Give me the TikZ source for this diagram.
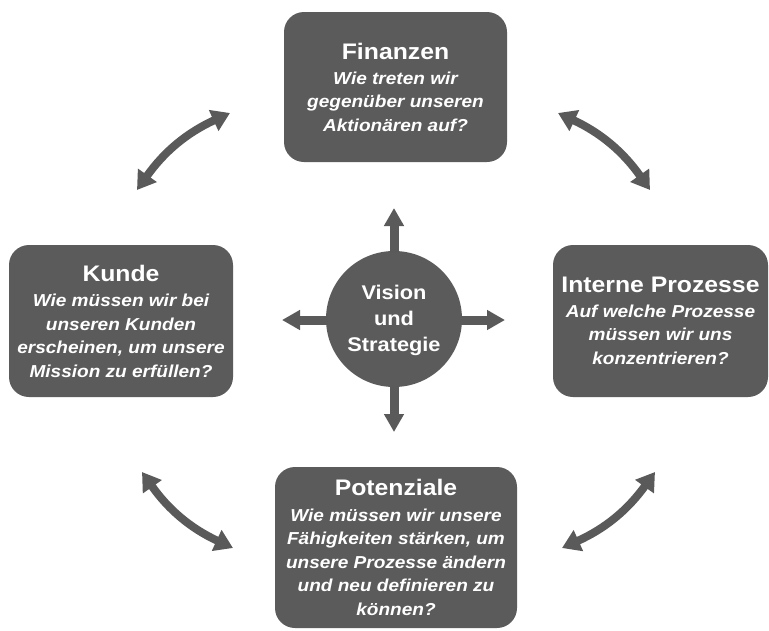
\documentclass[tikz,border=0pt]{standalone}
\usepackage{fontspec}
\setmainfont{Liberation Sans}[FakeStretch=1.1]
\usetikzlibrary{arrows.meta}
\definecolor{boxgray}{HTML}{5B5B5B}
\definecolor{arrowgray}{HTML}{5A5A5A}
\newcommand{\headtxt}[1]{{\fontsize{22.5}{23.5}\selectfont\upshape #1}}
\begin{document}
\begin{tikzpicture}[x=1pt,y=-1pt,
  card/.style={fill=boxgray, rounded corners=20pt, text=white, align=center,
    inner sep=0pt, font=\fontsize{17.3}{23.5}\selectfont\bfseries\itshape},
  hub/.style={circle, fill=boxgray, inner sep=0pt},
  hubtext/.style={text=white, align=center, inner sep=0pt,
    font=\fontsize{19.8}{26}\selectfont\bfseries},
  spoke/.style={draw=arrowgray, line width=9pt, -{Triangle[length=18pt,width=19pt]}},
  cycle/.style={draw=arrowgray, line width=8pt,
    {Triangle[length=18pt,width=22pt]}-{Triangle[length=18pt,width=22pt]}, bend left=15}]
\useasboundingbox (0,0) rectangle (769,630);

% the four perspectives
\node[card, minimum width=223pt, minimum height=150pt] (fin) at (395.5,87)
  {\headtxt{Finanzen}\\[1.5pt] Wie treten wir\\ gegenüber unseren\\ Aktionären auf?};
\node[card, minimum width=224pt, minimum height=152pt] (kun) at (121,321)
  {\headtxt{Kunde}\\[2pt] Wie müssen wir bei\\ unseren Kunden\\ erscheinen, um unsere\\ Mission zu erfüllen?};
\node[card, minimum width=215pt, minimum height=152pt] (pro) at (660.5,321)
  {\headtxt{Interne Prozesse}\\[1pt] Auf welche Prozesse\\ müssen wir uns\\ konzentrieren?};
\node[card, minimum width=242pt, minimum height=161pt] (pot) at (396,547.5)
  {\headtxt{Potenziale}\\[2pt] Wie müssen wir unsere\\ Fähigkeiten stärken, um\\ unsere Prozesse ändern\\ und neu definieren zu\\ können?};

% centre: vision and strategy
\node[hub, minimum size=136pt] (vis) at (394,319) {};
\node[hubtext] (vistxt) at (394,320) {Vision\\ und\\ Strategie};

% spokes leaving the centre
\coordinate (upS) at (394,253);   \coordinate (upT) at (394,208);
\coordinate (dnS) at (394,386);   \coordinate (dnT) at (394,432);
\coordinate (lfS) at (328,320);   \coordinate (lfT) at (282,320);
\coordinate (rtS) at (460,320);   \coordinate (rtT) at (505,320);
\draw[spoke] (upS) -- (upT);
\draw[spoke] (dnS) -- (dnT);
\draw[spoke] (lfS) -- (lfT);
\draw[spoke] (rtS) -- (rtT);

% curved double arrows between neighbouring perspectives
\coordinate (tlA) at (137,190); \coordinate (tlB) at (230,113);
\coordinate (trA) at (558,113); \coordinate (trB) at (650,190);
\coordinate (brA) at (655,472); \coordinate (brB) at (562,548);
\coordinate (blA) at (233,548); \coordinate (blB) at (142,472);
\draw[cycle] (tlA) to (tlB);
\draw[cycle] (trA) to (trB);
\draw[cycle] (brA) to (brB);
\draw[cycle] (blA) to (blB);
\end{tikzpicture}
\end{document}
